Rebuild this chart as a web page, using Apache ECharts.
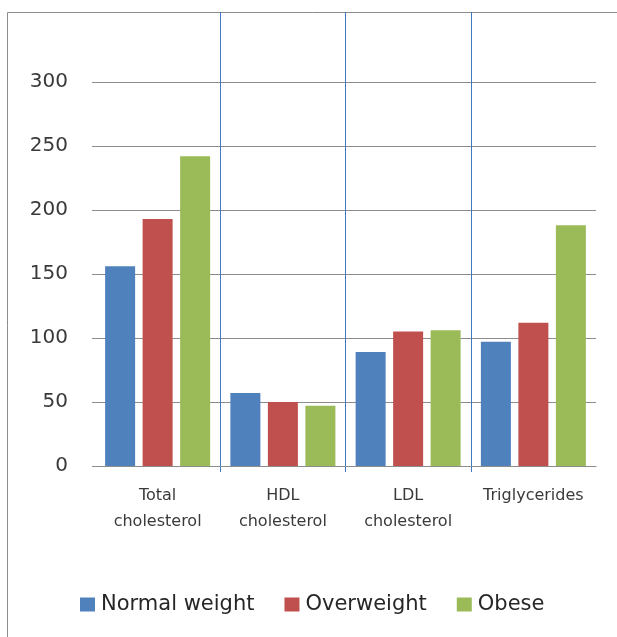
<!DOCTYPE html>
<html><head><meta charset="utf-8">
<script src="https://cdn.jsdelivr.net/npm/echarts@6/dist/echarts.min.js"></script>
<style>html,body{margin:0;padding:0;background:#fff}#chart{width:617px;height:637px}</style>
</head><body><div id="chart"></div>
<script>
const categories = ['Total\ncholesterol', 'HDL\ncholesterol', 'LDL\ncholesterol', 'Triglycerides'];
const seriesNames = ['Normal weight', 'Overweight', 'Obese'];
const normalWeight = [156, 57, 89, 97];
const overweight = [193, 50, 105, 112];
const obese = [242, 47, 106, 188];
const yMin = 0, yMax = 300, yStep = 50;

const colors = ['#4F81BD', '#C0504D', '#9BBB59'];
const font = 'DejaVu Sans';
const gray = '#8c8c8c';

const chart = echarts.init(document.getElementById('chart'), null, {renderer: 'canvas'});
const dataSets = [normalWeight, overweight, obese];
chart.setOption({
  animation: false,
  backgroundColor: '#fff',
  color: colors,
  graphic: [{
    type: 'rect', z: -10, silent: true,
    shape: {x: 7.5, y: 12.5, width: 700, height: 700},
    style: {fill: 'none', stroke: gray, lineWidth: 1}
  }],
  legend: {
    left: 75, top: 589,
    icon: 'rect', itemWidth: 15, itemHeight: 14, itemGap: 30,
    textStyle: {fontFamily: font, fontSize: 21, color: '#262626', padding: [0, 0, 0, 1]},
    data: seriesNames
  },
  grid: [
    {left: 95, right: 21, top: 82, bottom: 171, containLabel: false},
    {left: 95, right: 21, top: 12, bottom: 165, containLabel: false}
  ],
  xAxis: [
    {
      type: 'category', gridIndex: 0, data: categories, boundaryGap: true,
      axisLine: {show: true, lineStyle: {color: gray, width: 1}},
      axisTick: {show: false},
      axisLabel: {interval: 0, margin: 17, fontFamily: font, fontSize: 16, lineHeight: 26, color: '#3a3a3a'},
      splitLine: {show: false}
    },
    {
      type: 'category', gridIndex: 1, data: categories, boundaryGap: true,
      axisLine: {show: false}, axisTick: {show: false}, axisLabel: {show: false},
      splitLine: {show: true, showMinLine: false, showMaxLine: false, interval: 0,
        lineStyle: {color: '#3f78c0', width: 1}}
    }
  ],
  yAxis: [
    {
      type: 'value', gridIndex: 0, min: yMin, max: yMax, interval: yStep,
      axisLine: {show: false},
      axisTick: {show: true, length: 3, lineStyle: {color: gray}},
      axisLabel: {margin: 27, fontFamily: font, fontSize: 20, color: '#3a3a3a'},
      splitLine: {show: true, lineStyle: {color: gray, width: 1}}
    },
    {
      type: 'value', gridIndex: 1, min: 0, max: 1,
      axisLine: {show: false}, axisTick: {show: false}, axisLabel: {show: false},
      splitLine: {show: false}
    }
  ],
  series: seriesNames.map((name, i) => ({
    name: name, type: 'bar', xAxisIndex: 0, yAxisIndex: 0,
    data: dataSets[i], barWidth: 30, barGap: '25%',
    itemStyle: {color: colors[i]}
  }))
});
</script></body></html>
